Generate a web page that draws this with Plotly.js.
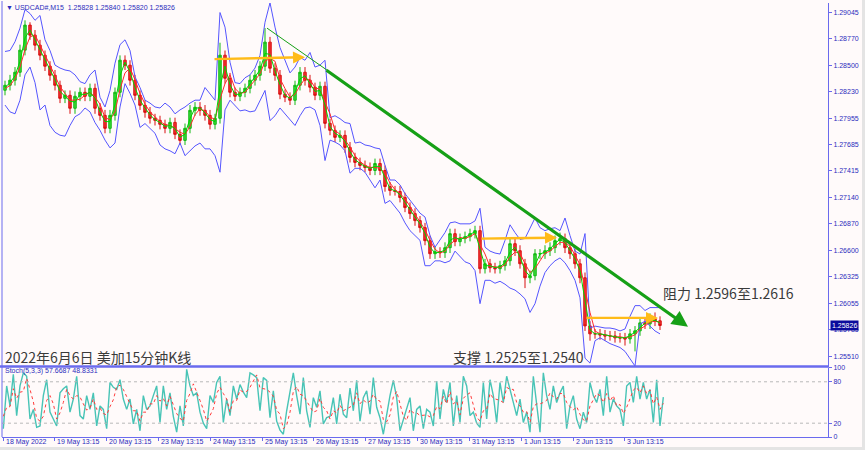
<!DOCTYPE html>
<html><head><meta charset="utf-8">
<script src="https://cdn.plot.ly/plotly-3.0.1.min.js"></script>
<style>html,body{margin:0;padding:0;background:#fffafa;}#chart{width:865px;height:450px;}</style>
</head><body><div id="chart"></div>
<script>
// ---- USDCAD M15 (each candle summarises a short run of M15 bars) ----
const open = [
1.28242,1.28293,1.28345,1.28427,1.28654,1.28911,1.28808,1.28705,1.28602,1.28489,
1.28396,1.28293,1.28159,1.28190,1.28057,1.28180,1.28221,1.28180,1.28262,1.28057,
1.27984,1.27851,1.27984,1.28221,1.28551,1.28499,1.28345,1.28190,1.28087,1.28015,
1.27954,1.27933,1.27892,1.27851,1.27912,1.27789,1.27727,1.27851,1.28036,1.28067,
1.28036,1.27984,1.27892,1.27954,1.28602,1.28365,1.28221,1.28180,1.28221,1.28262,
1.28345,1.28396,1.28489,1.28736,1.28468,1.28396,1.28201,1.28170,1.28139,1.28293,
1.28427,1.28345,1.28273,1.28190,1.28283,1.27902,1.27830,1.27758,1.27779,1.27655,
1.27552,1.27501,1.27470,1.27449,1.27418,1.27490,1.27418,1.27253,1.27212,1.27202,
1.27140,1.27037,1.26975,1.26903,1.26831,1.26697,1.26563,1.26584,1.26574,1.26625,
1.26769,1.26687,1.26718,1.26738,1.26769,1.26800,1.26409,1.26460,1.26419,1.26409,
1.26440,1.26491,1.26666,1.26594,1.26460,1.26316,1.26337,1.26563,1.26563,1.26594,
1.26625,1.26697,1.26718,1.26625,1.26563,1.26460,1.26316,1.25822,1.25740,1.25740,
1.25729,1.25719,1.25719,1.25699,1.25699,1.25688,1.25740,1.25771,1.25853,1.25843,
1.25894,1.25874];
const high = [
1.2834,1.2840,1.2848,1.2871,1.2896,1.2894,1.2886,1.2876,1.2865,1.2854,
1.2845,1.2834,1.2824,1.2824,1.2823,1.2827,1.2827,1.2831,1.2831,1.2811,
1.2804,1.2804,1.2827,1.2860,1.2860,1.2855,1.2840,1.2824,1.2814,1.2807,
1.2800,1.2798,1.2794,1.2796,1.2796,1.2784,1.2790,1.2809,1.2812,1.2812,
1.2809,1.2804,1.2800,1.2873,1.2865,1.2842,1.2827,1.2827,1.2831,1.2840,
1.2845,1.2854,1.2888,1.2879,1.2852,1.2845,1.2825,1.2822,1.2834,1.2848,
1.2848,1.2840,1.2832,1.2833,1.2833,1.2795,1.2788,1.2783,1.2783,1.2771,
1.2760,1.2755,1.2752,1.2750,1.2754,1.2754,1.2747,1.2730,1.2726,1.2726,
1.2719,1.2709,1.2703,1.2695,1.2688,1.2675,1.2664,1.2663,1.2668,1.2682,
1.2682,1.2677,1.2679,1.2682,1.2685,1.2685,1.2651,1.2651,1.2647,1.2649,
1.2654,1.2672,1.2672,1.2665,1.2651,1.2639,1.2661,1.2661,1.2665,1.2668,
1.2675,1.2678,1.2677,1.2668,1.2661,1.2651,1.2637,1.2587,1.2579,1.2579,
1.2578,1.2577,1.2577,1.2575,1.2575,1.2579,1.2582,1.2590,1.2590,1.2595,
1.2596,1.2592];
const low = [
1.2819,1.2824,1.2829,1.2838,1.2860,1.2876,1.2865,1.2855,1.2844,1.2834,
1.2824,1.2811,1.2811,1.2800,1.2800,1.2813,1.2813,1.2813,1.2800,1.2793,
1.2780,1.2780,1.2793,1.2817,1.2845,1.2829,1.2814,1.2804,1.2796,1.2790,
1.2788,1.2784,1.2780,1.2780,1.2774,1.2768,1.2768,1.2780,1.2798,1.2798,
1.2793,1.2784,1.2784,1.2790,1.2831,1.2817,1.2813,1.2813,1.2817,1.2821,
1.2829,1.2834,1.2844,1.2842,1.2834,1.2815,1.2812,1.2809,1.2809,1.2824,
1.2829,1.2822,1.2814,1.2814,1.2785,1.2778,1.2771,1.2771,1.2760,1.2750,
1.2745,1.2742,1.2740,1.2737,1.2737,1.2737,1.2720,1.2716,1.2716,1.2709,
1.2699,1.2692,1.2685,1.2678,1.2665,1.2651,1.2651,1.2652,1.2652,1.2657,
1.2664,1.2664,1.2667,1.2669,1.2672,1.2636,1.2636,1.2637,1.2636,1.2636,
1.2639,1.2644,1.2654,1.2641,1.2621,1.2626,1.2629,1.2651,1.2651,1.2654,
1.2657,1.2665,1.2657,1.2651,1.2641,1.2626,1.2577,1.2567,1.2569,1.2568,
1.2567,1.2567,1.2565,1.2565,1.2562,1.2564,1.2556,1.2572,1.2579,1.2579,
1.2582,1.2578];
const close = [
1.28293,1.28345,1.28427,1.28654,1.28911,1.28808,1.28705,1.28602,1.28489,1.28396,
1.28293,1.28159,1.28190,1.28057,1.28180,1.28221,1.28180,1.28262,1.28057,1.27984,
1.27851,1.27984,1.28221,1.28551,1.28499,1.28345,1.28190,1.28087,1.28015,1.27954,
1.27933,1.27892,1.27851,1.27912,1.27789,1.27727,1.27851,1.28036,1.28067,1.28036,
1.27984,1.27892,1.27954,1.28602,1.28365,1.28221,1.28180,1.28221,1.28262,1.28345,
1.28396,1.28489,1.28736,1.28468,1.28396,1.28201,1.28170,1.28139,1.28293,1.28427,
1.28345,1.28273,1.28190,1.28283,1.27902,1.27830,1.27758,1.27779,1.27655,1.27552,
1.27501,1.27470,1.27449,1.27418,1.27490,1.27418,1.27253,1.27212,1.27202,1.27140,
1.27037,1.26975,1.26903,1.26831,1.26697,1.26563,1.26584,1.26574,1.26625,1.26769,
1.26687,1.26718,1.26738,1.26769,1.26800,1.26409,1.26460,1.26419,1.26409,1.26440,
1.26491,1.26666,1.26594,1.26460,1.26316,1.26337,1.26563,1.26563,1.26594,1.26625,
1.26697,1.26718,1.26625,1.26563,1.26460,1.26316,1.25822,1.25740,1.25740,1.25729,
1.25719,1.25719,1.25699,1.25699,1.25688,1.25740,1.25771,1.25853,1.25843,1.25894,
1.25874,1.25826];
// fast (green) and slow (red) moving-average lines drawn over the candles
const maFast = [
1.2827,1.2832,1.2839,1.2854,1.2878,1.2886,1.2876,1.2866,1.2855,1.2845,
1.2835,1.2823,1.2818,1.2813,1.2812,1.2820,1.2820,1.2822,1.2816,1.2802,
1.2792,1.2792,1.2810,1.2839,1.2853,1.2843,1.2827,1.2814,1.2806,1.2799,
1.2794,1.2791,1.2787,1.2788,1.2785,1.2776,1.2779,1.2795,1.2806,1.2806,
1.2801,1.2794,1.2792,1.2828,1.2849,1.2830,1.2820,1.2820,1.2824,1.2831,
1.2838,1.2845,1.2862,1.2861,1.2844,1.2830,1.2819,1.2816,1.2822,1.2836,
1.2839,1.2831,1.2823,1.2824,1.2809,1.2787,1.2780,1.2777,1.2772,1.2761,
1.2753,1.2749,1.2746,1.2744,1.2746,1.2746,1.2734,1.2723,1.2721,1.2717,
1.2709,1.2701,1.2694,1.2687,1.2677,1.2663,1.2657,1.2658,1.2660,1.2670,
1.2673,1.2671,1.2673,1.2676,1.2679,1.2661,1.2644,1.2644,1.2642,1.2643,
1.2647,1.2658,1.2663,1.2653,1.2639,1.2633,1.2645,1.2656,1.2658,1.2661,
1.2667,1.2671,1.2668,1.2660,1.2651,1.2639,1.2607,1.2578,1.2574,1.2574,
1.2573,1.2572,1.2571,1.2570,1.2570,1.2572,1.2576,1.2581,1.2585,1.2587,
1.2588,1.2585];
const maSlow = [
1.2826,1.2829,1.2836,1.2848,1.2866,1.2879,1.2881,1.2871,1.2860,1.2850,
1.2839,1.2828,1.2821,1.2814,1.2814,1.2815,1.2819,1.2822,1.2817,1.2810,
1.2796,1.2794,1.2802,1.2825,1.2842,1.2847,1.2835,1.2821,1.2810,1.2802,
1.2797,1.2792,1.2789,1.2788,1.2785,1.2781,1.2779,1.2787,1.2799,1.2805,
1.2803,1.2797,1.2794,1.2815,1.2831,1.2840,1.2826,1.2821,1.2822,1.2828,
1.2834,1.2841,1.2854,1.2857,1.2854,1.2836,1.2826,1.2817,1.2820,1.2829,
1.2836,1.2835,1.2827,1.2825,1.2812,1.2800,1.2783,1.2779,1.2773,1.2766,
1.2757,1.2751,1.2747,1.2745,1.2745,1.2744,1.2739,1.2729,1.2722,1.2718,
1.2713,1.2705,1.2697,1.2690,1.2681,1.2670,1.2661,1.2657,1.2659,1.2666,
1.2670,1.2673,1.2672,1.2674,1.2677,1.2666,1.2656,1.2643,1.2643,1.2642,
1.2645,1.2653,1.2658,1.2657,1.2646,1.2637,1.2641,1.2649,1.2657,1.2659,
1.2664,1.2668,1.2668,1.2664,1.2655,1.2645,1.2620,1.2596,1.2577,1.2574,
1.2573,1.2572,1.2571,1.2571,1.2570,1.2571,1.2573,1.2579,1.2582,1.2586,
1.2587,1.2586];
const bandUpper = [
1.2864,1.2865,1.2874,1.2888,1.2907,1.2903,1.2896,1.2901,1.2876,1.2865,
1.2850,1.2847,1.2845,1.2844,1.2840,1.2833,1.2831,1.2840,1.2845,1.2817,
1.2807,1.2824,1.2852,1.2871,1.2876,1.2865,1.2838,1.2827,1.2814,1.2811,
1.2807,1.2806,1.2811,1.2807,1.2800,1.2804,1.2807,1.2811,1.2814,1.2814,
1.2827,1.2821,1.2814,1.2904,1.2889,1.2853,1.2832,1.2831,1.2837,1.2840,
1.2847,1.2860,1.2894,1.2914,1.2889,1.2868,1.2855,1.2842,1.2848,1.2858,
1.2855,1.2863,1.2848,1.2850,1.2855,1.2796,1.2798,1.2795,1.2791,1.2790,
1.2770,1.2771,1.2768,1.2767,1.2765,1.2764,1.2747,1.2732,1.2732,1.2727,
1.2718,1.2711,1.2705,1.2698,1.2694,1.2675,1.2663,1.2670,1.2678,1.2688,
1.2689,1.2687,1.2687,1.2687,1.2690,1.2703,1.2663,1.2659,1.2657,1.2656,
1.2670,1.2686,1.2678,1.2671,1.2672,1.2683,1.2693,1.2683,1.2680,1.2682,
1.2683,1.2680,1.2693,1.2675,1.2659,1.2656,1.2677,1.2580,1.2582,1.2581,
1.2580,1.2580,1.2579,1.2577,1.2579,1.2592,1.2603,1.2603,1.2598,1.2601,
1.2601,1.2601];
const bandLower = [
1.2809,1.2802,1.2800,1.2814,1.2840,1.2848,1.2832,1.2804,1.2809,1.2788,
1.2781,1.2778,1.2777,1.2788,1.2797,1.2800,1.2806,1.2802,1.2791,1.2783,
1.2773,1.2765,1.2770,1.2807,1.2831,1.2821,1.2809,1.2786,1.2790,1.2785,
1.2780,1.2768,1.2764,1.2762,1.2759,1.2770,1.2757,1.2762,1.2767,1.2770,
1.2764,1.2764,1.2757,1.2740,1.2804,1.2814,1.2809,1.2803,1.2804,1.2802,
1.2803,1.2814,1.2824,1.2793,1.2798,1.2806,1.2800,1.2793,1.2788,1.2798,
1.2806,1.2807,1.2804,1.2788,1.2752,1.2773,1.2771,1.2768,1.2762,1.2739,
1.2744,1.2744,1.2740,1.2732,1.2724,1.2732,1.2708,1.2711,1.2704,1.2698,
1.2688,1.2680,1.2675,1.2670,1.2644,1.2644,1.2649,1.2649,1.2647,1.2649,
1.2659,1.2653,1.2648,1.2646,1.2639,1.2605,1.2629,1.2629,1.2626,1.2628,
1.2625,1.2621,1.2619,1.2615,1.2610,1.2596,1.2605,1.2623,1.2637,1.2644,
1.2649,1.2652,1.2647,1.2639,1.2629,1.2611,1.2549,1.2544,1.2567,1.2570,
1.2567,1.2564,1.2562,1.2560,1.2556,1.2548,1.2541,1.2584,1.2587,1.2582,
1.2577,1.2574];
// ---- Stoch(5,3,3): %K main line and %D signal line ----
const stochK = [
12,74,45,91,31,74,93,88,26,40,14,16,60,83,36,26,16,64,70,74,
36,55,88,31,26,60,40,64,16,45,40,12,79,72,69,83,55,40,55,19,
40,9,60,40,45,60,74,21,74,40,64,30,7,45,16,98,74,60,64,36,
20,12,60,50,79,88,21,55,31,74,55,76,65,57,93,90,86,38,86,82,
28,67,23,10,4,38,67,93,60,33,86,38,14,57,43,67,19,28,30,57,
19,62,33,28,71,38,82,23,57,67,33,86,43,28,4,33,60,82,57,9,
25,38,57,9,40,45,12,40,36,16,81,26,69,50,79,16,60,21,88,74,
31,36,20,14,79,26,83,60,21,79,50,88,70,50,31,55,21,36,7,88,
50,7,93,60,40,74,50,64,74,12,45,60,26,12,36,21,79,60,50,69,
31,88,36,55,45,40,16,74,79,50,88,55,79,55,69,21,83,16,57.6687];
const stochD = [
30,43,44,70,56,65,66,85,69,51,27,23,30,53,60,48,26,35,50,69,
60,55,60,58,48,39,42,55,40,42,34,32,44,54,73,75,69,59,50,38,
38,23,36,36,48,48,60,52,56,45,59,45,34,27,23,53,63,77,66,53,
40,23,31,41,63,72,63,55,36,53,53,68,65,66,72,80,90,71,70,69,
65,59,39,33,12,17,36,66,73,62,60,52,46,36,38,56,43,38,26,38,
35,46,38,41,44,46,64,48,54,49,52,62,54,52,25,22,32,58,66,49,
30,24,40,35,35,31,32,32,29,31,44,41,59,48,66,48,52,32,56,61,
64,47,29,23,38,40,63,56,55,53,50,72,69,69,50,45,36,37,21,44,
48,48,50,53,64,58,55,63,63,50,44,39,44,33,25,23,45,53,63,60,
50,63,52,60,45,47,34,43,56,68,72,64,74,63,68,48,58,40,48.8331];
// ---- time axis labels ----
const dayTickPos  = [-0.4, 9.8, 20.2, 30.6, 41, 51.4, 61.6, 72, 82.4, 92.8, 103.2, 113.6, 123.8];
const dayTickText = ['18 May 2022','19 May 13:15','20 May 13:15','23 May 13:15','24 May 13:15','25 May 13:15',
                     '26 May 13:15','27 May 13:15','30 May 13:15','31 May 13:15','1 Jun 13:15','2 Jun 13:15','3 Jun 13:15'];
const priceTicks = [1.29045,1.28770,1.28500,1.28230,1.27955,1.27685,1.27415,1.27140,1.26870,1.26600,1.26325,1.26055,1.25785,1.25510];
const stochTicks = [0,20,80,100];
// ---- drawn objects on the chart: [slot, price] pairs ----
const trendThin  = [[52.4, 1.28880], [65.0, 1.28427]];
const trendArrow = [[64.0, 1.28458], [136.6, 1.25812]];
const orangeArrows = [
  [[41.6, 1.28561], [60.0, 1.28582]],
  [[95.0, 1.26718], [110.4, 1.26728]],
  [[116.0, 1.25904], [130.6, 1.25904]]
];
const lastPrice = 1.25826;

const slot = close.map((_, i) => i);
const stochSlot = stochK.map((_, j) => j * 2 / 3 - 1 / 3);

const FONT = '"Liberation Sans", Arial, sans-serif';
const CJK = '"Noto Sans CJK SC", "Noto Sans", sans-serif';
const AXIS = '#6a6aee';
const LBL = '#2c2cbc';
const PX = v => (v - 2) / 826;
const PY = v => (437 - v) / 434;

const traces = [
  {type:'scatter', mode:'lines', x:slot, y:bandUpper, line:{color:'#5555ff', width:1}},
  {type:'scatter', mode:'lines', x:slot, y:bandLower, line:{color:'#5555ff', width:1}},
  {type:'candlestick', x:slot, open:open, high:high, low:low, close:close, whiskerwidth:0,
   increasing:{line:{color:'#12b812', width:1}, fillcolor:'#3ad83a'},
   decreasing:{line:{color:'#d81010', width:1}, fillcolor:'#f03030'}},
  {type:'scatter', mode:'lines', x:slot, y:maSlow, line:{color:'#ff2a2a', width:1}},
  {type:'scatter', mode:'lines', x:slot, y:maFast, line:{color:'#00d400', width:1}},
  {type:'scatter', mode:'lines', x:stochSlot, y:stochK, xaxis:'x', yaxis:'y2', line:{color:'#48c4b6', width:1.4}},
  {type:'scatter', mode:'lines', x:stochSlot, y:stochD, xaxis:'x', yaxis:'y2', line:{color:'#ff3b3b', width:1, dash:'dot'}}
];

const arrow = (tail, head, color, w) => ({xref:'x', yref:'y', axref:'x', ayref:'y',
  x:head[0], y:head[1], ax:tail[0], ay:tail[1], text:'', showarrow:true,
  arrowhead:2, arrowsize:1, arrowwidth:w, arrowcolor:color, standoff:0, startstandoff:0});

const annotations = [
  {xref:'paper', yref:'paper', x:PX(4), y:PY(7.5), xanchor:'left', yanchor:'middle', showarrow:false,
   text:'▼ USDCAD#,M15  1.25828 1.25840 1.25820 1.25826', font:{family:FONT, size:7, color:LBL}},
  {xref:'paper', yref:'paper', x:PX(3), y:PY(357), xanchor:'left', yanchor:'middle', showarrow:false,
   text:'2022年6月6日 美加15分钟K线', font:{family:CJK, size:14, color:'#3a3a3a'}},
  {xref:'paper', yref:'paper', x:PX(451), y:PY(357), xanchor:'left', yanchor:'middle', showarrow:false,
   text:'支撑 1.2525至1.2540', font:{family:CJK, size:14, color:'#3a3a3a'}},
  {xref:'paper', yref:'paper', x:PX(661), y:PY(293), xanchor:'left', yanchor:'middle', showarrow:false,
   text:'阻力 1.2596至1.2616', font:{family:CJK, size:14, color:'#3a3a3a'}},
  {xref:'paper', yref:'paper', x:PX(3), y:PY(371), xanchor:'left', yanchor:'middle', showarrow:false,
   text:'Stoch(5,3,3) 57.6687 48.8331', font:{family:FONT, size:7, color:LBL}},
  {xref:'paper', yref:'y', x:PX(830), y:lastPrice, xanchor:'left', yanchor:'middle', showarrow:false,
   text:lastPrice.toFixed(5), bgcolor:'#0a0a9c', borderpad:1, font:{family:FONT, size:7, color:'#ffffff'}},
  arrow(trendArrow[0], trendArrow[1], '#16a016', 3.2)
].concat(orangeArrows.map(a => arrow(a[0], a[1], '#ffbb18', 2.4)))
 .concat(dayTickText.map((t, k) => ({xref:'x', yref:'paper', x:dayTickPos[k], y:PY(442), xanchor:'left',
   yanchor:'middle', xshift:1.5, showarrow:false, borderpad:0, text:t, font:{family:FONT, size:7, color:LBL}})));

const shapes = [
  {type:'line', xref:'x', yref:'y', x0:trendThin[0][0], y0:trendThin[0][1], x1:trendThin[1][0], y1:trendThin[1][1],
   line:{color:'#16a016', width:1}},
  {type:'line', xref:'paper', yref:'y2', x0:0, x1:1, y0:80, y1:80, line:{color:'#b8b8b8', width:1, dash:'dot'}},
  {type:'line', xref:'paper', yref:'y2', x0:0, x1:1, y0:20, y1:20, line:{color:'#b8b8b8', width:1, dash:'dot'}},
  {type:'line', xref:'paper', yref:'paper', x0:PX(0), x1:PX(829), y0:PY(366.5), y1:PY(366.5), line:{color:AXIS, width:2.5}},
  {type:'line', xref:'paper', yref:'paper', x0:0, x1:0, y0:0, y1:PY(1), line:{color:AXIS, width:1}},
  {type:'rect', xref:'paper', yref:'paper', x0:PX(0), x1:PX(865), y0:PY(447), y1:PY(451), fillcolor:'#e4e4e4', line:{width:0}},
  {type:'rect', xref:'paper', yref:'paper', x0:PX(862), x1:PX(866), y0:PY(451), y1:PY(0), fillcolor:'#e4e4e4', line:{width:0}}
];

const tickfont = {family:FONT, size:7, color:LBL};
const layout = {
  width:865, height:450, margin:{l:2, r:37, t:3, b:13, pad:0},
  paper_bgcolor:'#fffafa', plot_bgcolor:'#fffafa', showlegend:false, hovermode:false,
  xaxis:{range:[-0.6, 164.6], anchor:'y2', showgrid:false, zeroline:false, showline:true, linecolor:AXIS, linewidth:1,
         tickmode:'array', tickvals:dayTickPos, showticklabels:false, ticks:'outside', ticklen:3, tickcolor:AXIS,
         rangeslider:{visible:false}, fixedrange:true},
  yaxis:{domain:[0.1636, 1], range:[1.25410, 1.29138], side:'right', anchor:'x', showgrid:false, zeroline:false,
         showline:true, linecolor:AXIS, linewidth:1, tickmode:'array', tickvals:priceTicks,
         ticktext:priceTicks.map(v => v.toFixed(5)), ticks:'outside', ticklen:3, tickcolor:AXIS, tickfont:tickfont, fixedrange:true},
  yaxis2:{domain:[0, 0.159], range:[0, 100], side:'right', anchor:'x', showgrid:false, zeroline:false,
         showline:true, linecolor:AXIS, linewidth:1, tickmode:'array', tickvals:stochTicks,
         ticktext:stochTicks.map(String), ticks:'outside', ticklen:3, tickcolor:AXIS, tickfont:tickfont, fixedrange:true},
  annotations:annotations, shapes:shapes
};
Plotly.newPlot('chart', traces, layout, {staticPlot:true, displayModeBar:false});
</script></body></html>
